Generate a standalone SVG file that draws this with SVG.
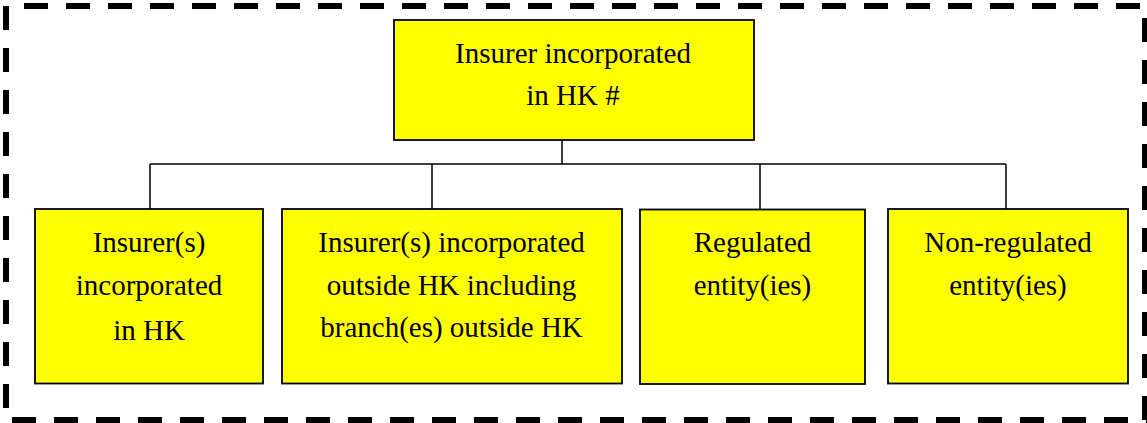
<svg xmlns="http://www.w3.org/2000/svg" width="1147" height="423" viewBox="0 0 1147 423">
<style>
.box{fill:#FFFF00;stroke:#000;stroke-width:1.8}
.lbl{font-family:"Liberation Serif","Times New Roman",serif;font-size:29px;fill:#000;text-anchor:middle}
.conn{stroke:#000;stroke-width:1.5;fill:none}
.border{stroke:#000;stroke-width:6;stroke-dasharray:24 18;fill:none}
</style>
<rect width="1147" height="423" fill="#fff"/>
<g id="frame">
<line class="border" x1="24" y1="6" x2="1147" y2="6"/>
<line class="border" x1="6" y1="6" x2="6" y2="423"/>
<line class="border" x1="1145" y1="18" x2="1145" y2="423"/>
<line class="border" x1="12" y1="420" x2="1147" y2="420"/>
</g>
<g id="connectors">
<path class="conn" d="M562,140 V164 M150,164 H1006 M150,164 V209 M432,164 V209 M760,164 V210 M1006,164 V209"/>
</g>
<g id="top">
<rect class="box" x="394" y="20" width="360" height="120"/>
<text class="lbl" x="573" y="63">Insurer incorporated</text>
<text class="lbl" x="573" y="105">in HK #</text>
</g>
<g id="insurers-hk">
<rect class="box" x="35" y="209" width="228" height="174.5"/>
<text class="lbl" x="149" y="252">Insurer(s)</text>
<text class="lbl" x="149" y="295">incorporated</text>
<text class="lbl" x="149" y="340">in HK</text>
</g>
<g id="insurers-outside">
<rect class="box" x="282" y="209" width="340" height="174.5"/>
<text class="lbl" x="451.5" y="252">Insurer(s) incorporated</text>
<text class="lbl" x="451.5" y="295">outside HK including</text>
<text class="lbl" x="451.5" y="337">branch(es) outside HK</text>
</g>
<g id="regulated">
<rect class="box" x="640" y="209.5" width="225" height="174.5"/>
<text class="lbl" x="752.5" y="252">Regulated</text>
<text class="lbl" x="752.5" y="295">entity(ies)</text>
</g>
<g id="non-regulated">
<rect class="box" x="888" y="209" width="240" height="174.5"/>
<text class="lbl" x="1008" y="252">Non-regulated</text>
<text class="lbl" x="1008" y="295">entity(ies)</text>
</g>
</svg>
